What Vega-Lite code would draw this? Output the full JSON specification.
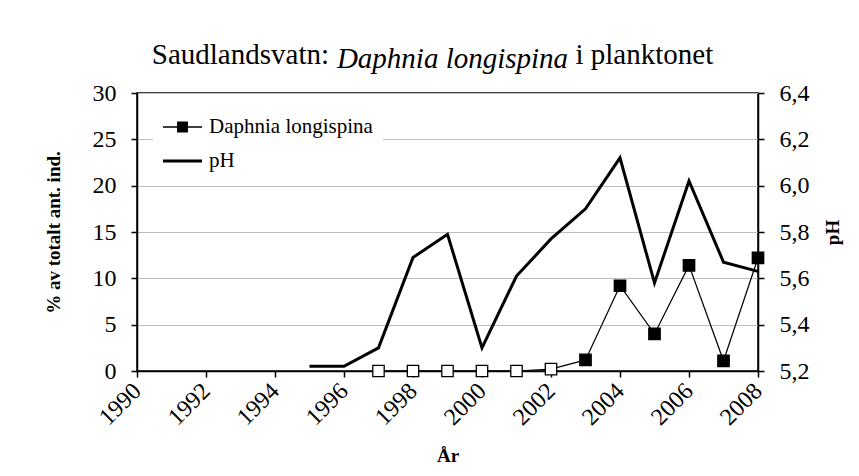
{
  "$schema": "https://vega.github.io/schema/vega-lite/v6.json",
  "width": 621,
  "height": 278,
  "autosize": "none",
  "padding": {"left": 137, "top": 93, "right": 101, "bottom": 105},
  "background": "white",
  "config": {
    "font": "Times New Roman, Liberation Serif, DejaVu Serif, serif",
    "view": {"stroke": "black", "strokeWidth": 1.5},
    "axis": {
      "domainColor": "black",
      "domainWidth": 1.5,
      "tickColor": "black",
      "tickWidth": 1.5,
      "tickSize": 6,
      "labelFont": "Times New Roman, Liberation Serif, DejaVu Serif, serif",
      "labelFontSize": 24,
      "labelColor": "black",
      "titleFont": "Times New Roman, Liberation Serif, DejaVu Serif, serif",
      "titleFontSize": 19,
      "titleFontWeight": "bold",
      "titleColor": "black",
      "grid": false
    },
    "legend": {
      "labelFont": "Times New Roman, Liberation Serif, DejaVu Serif, serif"
    },
    "title": {
      "font": "Times New Roman, Liberation Serif, DejaVu Serif, serif"
    }
  },
  "title": {
    "text": "Saudlandsvatn:\u00a0\u00a0\u00a0\u00a0\u00a0\u00a0\u00a0\u00a0\u00a0\u00a0\u00a0\u00a0\u00a0\u00a0\u00a0\u00a0\u00a0\u00a0\u00a0\u00a0\u00a0\u00a0\u00a0\u00a0\u00a0\u00a0\u00a0\u00a0\u00a0\u00a0\u00a0\u00a0\u00a0\u00a0i planktonet",
    "fontSize": 29,
    "fontWeight": "normal",
    "color": "black",
    "anchor": "middle",
    "frame": "group",
    "baseline": "alphabetic",
    "offset": 0,
    "dy": 49,
    "dx": -15
  },
  "datasets": {
    "daphnia": [
      {"year": 1997, "value": 0, "series": "Daphnia longispina"},
      {"year": 1998, "value": 0, "series": "Daphnia longispina"},
      {"year": 1999, "value": 0, "series": "Daphnia longispina"},
      {"year": 2000, "value": 0, "series": "Daphnia longispina"},
      {"year": 2001, "value": 0, "series": "Daphnia longispina"},
      {"year": 2002, "value": 0.2, "series": "Daphnia longispina"},
      {"year": 2003, "value": 1.2, "series": "Daphnia longispina"},
      {"year": 2004, "value": 9.2, "series": "Daphnia longispina"},
      {"year": 2005, "value": 4.0, "series": "Daphnia longispina"},
      {"year": 2006, "value": 11.4, "series": "Daphnia longispina"},
      {"year": 2007, "value": 1.1, "series": "Daphnia longispina"},
      {"year": 2008, "value": 12.2, "series": "Daphnia longispina"}
    ],
    "ph": [
      {"year": 1995, "value": 5.22, "series": "pH"},
      {"year": 1996, "value": 5.22, "series": "pH"},
      {"year": 1997, "value": 5.30, "series": "pH"},
      {"year": 1998, "value": 5.69, "series": "pH"},
      {"year": 1999, "value": 5.79, "series": "pH"},
      {"year": 2000, "value": 5.30, "series": "pH"},
      {"year": 2001, "value": 5.61, "series": "pH"},
      {"year": 2002, "value": 5.77, "series": "pH"},
      {"year": 2003, "value": 5.90, "series": "pH"},
      {"year": 2004, "value": 6.12, "series": "pH"},
      {"year": 2005, "value": 5.58, "series": "pH"},
      {"year": 2006, "value": 6.02, "series": "pH"},
      {"year": 2007, "value": 5.67, "series": "pH"},
      {"year": 2008, "value": 5.63, "series": "pH"}
    ]
  },
  "layer": [
    {
      "data": {"name": "daphnia"},
      "encoding": {
        "x": {
          "field": "year",
          "type": "quantitative",
          "scale": {"domain": [1990, 2008], "nice": false, "zero": false},
          "axis": {
            "orient": "top",
            "domain": false,
            "ticks": false,
            "labels": false,
            "grid": false,
            "title": "Daphnia longispina",
            "titleFontStyle": "italic",
            "titleFontWeight": "normal",
            "titleFontSize": 29,
            "titleX": 315,
            "titleY": -26,
            "titleAlign": "center",
            "titleBaseline": "alphabetic",
            "titleAngle": 0
          }
        },
        "y": {
          "field": "value",
          "type": "quantitative",
          "scale": {"domain": [0, 30], "nice": false, "zero": true},
          "axis": {
            "orient": "left",
            "values": [0, 5, 10, 15, 20, 25, 30],
            "grid": true,
            "gridColor": "#bdbdbd",
            "gridWidth": 1,
            "labelPadding": 15,
            "title": "% av totalt ant. ind.",
            "titleAngle": 270,
            "titleX": -84,
            "titleY": 139,
            "titleAlign": "center",
            "titleBaseline": "middle"
          }
        }
      },
      "layer": [
        {
          "mark": {"type": "line", "color": "black", "strokeWidth": 1.2}
        },
        {
          "mark": {"type": "point", "shape": "square", "size": 130, "filled": true, "stroke": "black", "strokeWidth": 1.3, "opacity": 1},
          "encoding": {
            "fill": {"condition": {"test": "datum.value < 0.5", "value": "white"}, "value": "black"}
          }
        },
        {
          "mark": {"type": "point", "filled": true, "color": "black", "opacity": 0, "size": 1521},
          "encoding": {
            "shape": {
              "field": "series",
              "type": "nominal",
              "scale": {
                "domain": ["Daphnia longispina", "pH"],
                "range": [
                  "M-1,-0.035H1V0.035H-1Z M-0.28,-0.28H0.28V0.28H-0.28Z",
                  "M-1,-0.075H1V0.075H-1Z"
                ]
              },
              "legend": {
                "title": null,
                "orient": "none",
                "legendX": 16,
                "legendY": 4.5,
                "direction": "vertical",
                "fillColor": "white",
                "padding": 10,
                "rowPadding": 4,
                "symbolSize": 1521,
                "symbolFillColor": "black",
                "symbolStrokeColor": "black",
                "symbolStrokeWidth": 0,
                "symbolOpacity": 1,
                "labelFontSize": 21,
                "labelColor": "black",
                "labelOffset": 7,
                "labelLimit": 400
              }
            }
          }
        }
      ]
    },
    {
      "data": {"name": "ph"},
      "mark": {"type": "line", "color": "black", "strokeWidth": 3},
      "encoding": {
        "x": {
          "field": "year",
          "type": "quantitative",
          "scale": {"domain": [1990, 2008], "nice": false, "zero": false},
          "axis": {
            "orient": "bottom",
            "values": [1990, 1992, 1994, 1996, 1998, 2000, 2002, 2004, 2006, 2008],
            "format": "d",
            "labelAngle": -45,
            "labelAlign": "right",
            "labelBaseline": "middle",
            "labelPadding": 10,
            "labelBound": false,
            "labelOverlap": false,
            "title": "År",
            "titleY": 84,
            "titleBaseline": "middle",
            "titleAlign": "center"
          }
        },
        "y": {
          "field": "value",
          "type": "quantitative",
          "scale": {"domain": [5.2, 6.4], "nice": false, "zero": false},
          "axis": {
            "orient": "right",
            "values": [5.2, 5.4, 5.6, 5.8, 6.0, 6.2, 6.4],
            "labelExpr": "replace(format(datum.value, '.1f'), '.', ',')",
            "labelPadding": 15,
            "grid": false,
            "title": "pH",
            "titleAngle": 270,
            "titleX": 74,
            "titleY": 139,
            "titleAlign": "center",
            "titleBaseline": "middle"
          }
        }
      }
    }
  ],
  "resolve": {"scale": {"y": "independent"}, "axis": {"x": "independent", "y": "independent"}}
}
